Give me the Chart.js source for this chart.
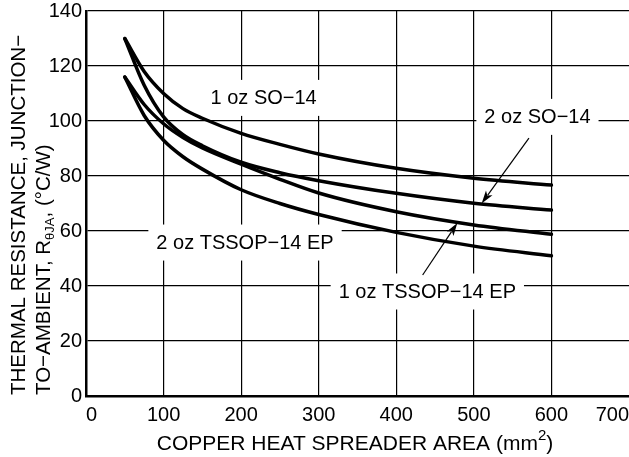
<!DOCTYPE html>
<html><head><meta charset="utf-8">
<script src="https://cdn.jsdelivr.net/npm/chart.js@4"></script>
<style>html,body{margin:0;padding:0;background:#fff}#wrap{width:629px;height:457px;position:relative}</style>
</head><body><div id="wrap"><canvas id="c"></canvas></div>
<script>
// ---- data ----
const areas      = [50, 75, 100, 125, 150, 200, 250, 300, 400, 500, 600];
const so14_1oz   = [130, 118, 110, 104.5, 101, 95.5, 91.5, 88, 82.8, 79.2, 76.7];
const so14_2oz   = [130, 113, 101.5, 95, 91, 85, 81.2, 78.3, 73.7, 70.1, 67.6];
const tssop_1oz  = [116, 106, 99, 94, 90.2, 84.3, 78.8, 73.8, 67, 62.2, 58.8];
const tssop_2oz  = [116, 102, 93, 87, 82.5, 75, 70, 66, 59.5, 54.5, 51];
const seriesNames = ['1 oz SO\u221214', '2 oz SO\u221214', '1 oz TSSOP\u221214 EP', '2 oz TSSOP\u221214 EP'];
const xTicks = [0, 100, 200, 300, 400, 500, 600, 700];
const yTicks = [0, 20, 40, 60, 80, 100, 120, 140];

const FONT = '"Liberation Sans", Arial, Helvetica, sans-serif';

// label placement (data units) and arrows (data units)
const labelSpots = [
  {name: seriesNames[0], x: 229, y: 108.4},
  {name: seriesNames[1], x: 582, y: 101.5},
  {name: seriesNames[3], x: 205, y: 55.8},
  {name: seriesNames[2], x: 440, y: 38}
];
const arrows = [
  {from: [571, 93.8], to: [510, 70.0]},
  {from: [434, 44.0], to: [478.7, 62.9]}
];

function pts(ys){ return areas.map((a,i)=>({x:a, y:ys[i]})); }

const annot = {
  id: 'annot',
  beforeDatasetsDraw(chart){
    const {ctx, scales:{x, y}} = chart;
    ctx.save();
    ctx.font = '20px ' + FONT;
    ctx.fillStyle = '#fff';
    labelSpots.forEach(l => {
      const w = ctx.measureText(l.name).width + 16;
      const cx = x.getPixelForValue(l.x), cy = y.getPixelForValue(l.y);
      ctx.fillRect(cx - w/2, cy - 18, w, 36);
    });
    ctx.restore();
  },
  afterDatasetsDraw(chart){
    const {ctx, scales:{x, y}} = chart;
    ctx.save();
    ctx.font = '20px ' + FONT;
    ctx.fillStyle = '#000';
    ctx.textAlign = 'center';
    ctx.textBaseline = 'middle';
    labelSpots.forEach(l => {
      ctx.fillText(l.name, x.getPixelForValue(l.x), y.getPixelForValue(l.y) + 1);
    });
    ctx.strokeStyle = '#000';
    ctx.lineWidth = 1.2;
    arrows.forEach(a => {
      const x0 = x.getPixelForValue(a.from[0]), y0 = y.getPixelForValue(a.from[1]);
      const x1 = x.getPixelForValue(a.to[0]), y1 = y.getPixelForValue(a.to[1]);
      const ang = Math.atan2(y1 - y0, x1 - x0);
      const L = 13, H = 4;
      ctx.beginPath(); ctx.moveTo(x0, y0);
      ctx.lineTo(x1 - Math.cos(ang)*L*0.8, y1 - Math.sin(ang)*L*0.8); ctx.stroke();
      ctx.beginPath();
      ctx.moveTo(x1, y1);
      ctx.lineTo(x1 - Math.cos(ang)*L - Math.sin(ang)*H, y1 - Math.sin(ang)*L + Math.cos(ang)*H);
      ctx.lineTo(x1 - Math.cos(ang)*L*0.75, y1 - Math.sin(ang)*L*0.75);
      ctx.lineTo(x1 - Math.cos(ang)*L + Math.sin(ang)*H, y1 - Math.sin(ang)*L - Math.cos(ang)*H);
      ctx.closePath(); ctx.fill();
    });
    ctx.restore();
  },
  afterDraw(chart){
    const ctx = chart.ctx;
    ctx.save();
    ctx.fillStyle = '#000';
    ctx.textBaseline = 'alphabetic';
    ctx.textAlign = 'left';
    // x axis title with superscript
    const t1 = 'COPPER HEAT SPREADER AREA (mm', t2 = '2', t3 = ')';
    ctx.font = '21px ' + FONT; const w1 = ctx.measureText(t1).width, w3 = ctx.measureText(t3).width;
    ctx.font = '15px ' + FONT; const w2 = ctx.measureText(t2).width;
    let sx = 355 - (w1 + w2 + w3)/2;
    ctx.font = '21px ' + FONT; ctx.fillText(t1, sx, 450);
    ctx.font = '15px ' + FONT; ctx.fillText(t2, sx + w1, 440);
    ctx.font = '21px ' + FONT; ctx.fillText(t3, sx + w1 + w2, 450);
    // y axis title, two rotated lines
    ctx.save();
    ctx.translate(24.5, 395); ctx.rotate(-Math.PI/2);
    ctx.font = '20.5px ' + FONT;
    ctx.fillText('THERMAL RESISTANCE, JUNCTION\u2212', 0, 0);
    ctx.restore();
    ctx.save();
    ctx.translate(49.5, 395); ctx.rotate(-Math.PI/2);
    const a1 = 'TO\u2212AMBIENT, R', a2 = '\u03b8JA', a3 = ', (\u00b0C/W)';
    ctx.font = '20.5px ' + FONT; const aw1 = ctx.measureText(a1).width;
    ctx.fillText(a1, 0, 0);
    ctx.font = '13px ' + FONT; const aw2 = ctx.measureText(a2).width;
    ctx.fillText(a2, aw1, 4);
    ctx.font = '20.5px ' + FONT;
    ctx.fillText(a3, aw1 + aw2, 0);
    ctx.restore();
    ctx.restore();
  }
};

const lineStyle = {borderColor:'#000', borderWidth:3.5, pointRadius:0, fill:false,
  cubicInterpolationMode:'monotone', borderCapStyle:'round', borderJoinStyle:'round'};

new Chart(document.getElementById('c'), {
  type: 'line',
  data: {
    datasets: [
      Object.assign({label: seriesNames[0], data: pts(so14_1oz)}, lineStyle),
      Object.assign({label: seriesNames[1], data: pts(so14_2oz)}, lineStyle),
      Object.assign({label: seriesNames[2], data: pts(tssop_1oz)}, lineStyle),
      Object.assign({label: seriesNames[3], data: pts(tssop_2oz)}, lineStyle)
    ]
  },
  options: {
    responsive: true, maintainAspectRatio: false, animation: false, devicePixelRatio: 1,
    layout: {padding: {top: 11, left: 0, right: 0, bottom: 0}},
    plugins: {legend: {display: false}, tooltip: {enabled: false}},
    scales: {
      x: {
        type: 'linear', min: 0, max: 700,
        afterBuildTicks: s => { s.ticks = xTicks.map(v => ({value: v})); },
        afterFit: s => { s.height = 61; s.paddingLeft = 0; s.paddingRight = 0; },
        ticks: {align: 'inner', color: '#000', font: {family: FONT, size: 20}, padding: 7, maxRotation: 0, autoSkip: false},
        grid: {color: c => (c.tick && c.tick.value === 700) ? 'rgba(0,0,0,0)' : '#000', lineWidth: 1.2, drawTicks: false},
        border: {display: true, color: '#000', width: 2.5}
      },
      y: {
        type: 'linear', min: 0, max: 140,
        afterBuildTicks: s => { s.ticks = yTicks.map(v => ({value: v})); },
        afterFit: s => { s.width = 86; s.paddingTop = 0; s.paddingBottom = 0; },
        ticks: {color: '#000', font: {family: FONT, size: 20}, padding: 4, autoSkip: false},
        grid: {color: '#000', lineWidth: 1.2, drawTicks: false},
        border: {display: true, color: '#000', width: 2.5}
      }
    }
  },
  plugins: [annot]
});
</script>
</body></html>
